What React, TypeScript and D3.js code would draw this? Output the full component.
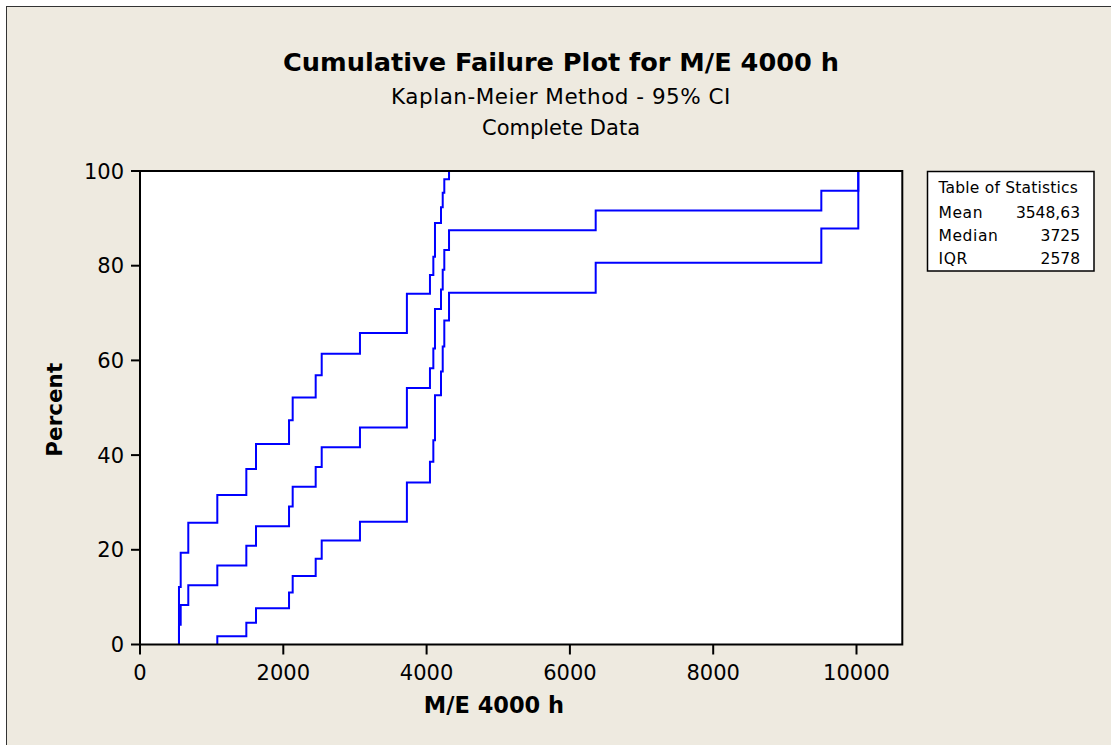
import React from "react";
import * as d3 from "d3";

// Failure times (unique) and Kaplan-Meier cumulative failure percent with 95% CI
const times = [544, 568, 674, 1079, 1484, 1619, 2080, 2131, 2452, 2536, 3070, 3725, 4047, 4094, 4117, 4201, 4225, 4247, 4313, 6360, 9509, 10025];
const kmPercent = [4.17, 8.33, 12.5, 16.67, 20.83, 25.0, 29.17, 33.33, 37.5, 41.67, 45.83, 54.17, 58.33, 62.5, 70.83, 75.0, 79.17, 83.33, 87.5, 91.67, 95.83, 100];
const upperPercent = [12.16, 19.39, 25.73, 31.58, 37.08, 42.32, 47.35, 52.19, 56.87, 61.39, 65.77, 74.1, 78.06, 81.87, 89.02, 92.32, 95.41, 98.24, 100, 100, 100, 100];
const lowerPercent = [0, 0, 0, 1.76, 4.59, 7.68, 10.98, 14.47, 18.13, 21.94, 25.9, 34.23, 38.61, 43.13, 52.65, 57.68, 62.92, 68.42, 74.27, 80.61, 87.84, 100];

const xTicks = [0, 2000, 4000, 6000, 8000, 10000];
const yTicks = [0, 20, 40, 60, 80, 100];

const statLabels = ["Mean", "Median", "IQR"];
const statValues = ["3548,63", "3725", "2578"];

const FONT = "'DejaVu Sans', Verdana, sans-serif";
const BG = "#EEEAE0";

export default function App() {
  const plotLeft = 140, plotRight = 902.3, plotTop = 171, plotBottom = 644.5;
  const x = d3.scaleLinear().domain([0, 10000]).range([plotLeft, 856.5]);
  const y = d3.scaleLinear().domain([0, 100]).range([plotBottom, plotTop]);

  const line = d3
    .line<{ t: number; p: number }>()
    .x((d) => x(d.t))
    .y((d) => y(d.p))
    .curve(d3.curveStepAfter);

  const buildSeries = (vals: number[]) => {
    const first = vals.findIndex((v) => v > 0);
    const pts = [{ t: times[first], p: 0 }];
    for (let i = first; i < times.length; i++) pts.push({ t: times[i], p: vals[i] });
    return pts;
  };

  const series = [kmPercent, upperPercent, lowerPercent].map(buildSeries);

  const boxL = 927.5, boxR = 1094, boxT = 171.5, boxB = 271;

  return (
    <svg
      width={1111}
      height={745}
      style={{ position: "fixed", left: 0, top: 0, display: "block" }}
      fontFamily={FONT}
    >
      <rect x={0} y={0} width={1111} height={745} fill="#ffffff" />
      <rect x={6} y={6} width={1105} height={739} fill={BG} />
      <line x1={6.5} y1={6} x2={6.5} y2={745} stroke="#333" strokeWidth={1} />
      <line x1={6} y1={6.5} x2={1111} y2={6.5} stroke="#333" strokeWidth={1} />

      {/* titles */}
      <text x={561} y={71} textAnchor="middle" fontSize={25.6} fontWeight="bold" fill="#000">
        Cumulative Failure Plot for M/E 4000 h
      </text>
      <text x={561} y={104} textAnchor="middle" fontSize={21.5} fill="#000" letterSpacing={0.5}>
        Kaplan-Meier Method - 95% CI
      </text>
      <text x={561} y={135} textAnchor="middle" fontSize={21} fill="#000">
        Complete Data
      </text>

      {/* plot area */}
      <rect x={plotLeft} y={plotTop} width={plotRight - plotLeft} height={plotBottom - plotTop} fill="#fff" />

      {series.map((s, i) => (
        <path key={i} d={line(s) || ""} fill="none" stroke="#0000FF" strokeWidth={2} />
      ))}

      <rect
        x={plotLeft}
        y={plotTop}
        width={plotRight - plotLeft}
        height={plotBottom - plotTop}
        fill="none"
        stroke="#000"
        strokeWidth={2}
      />

      {/* x axis ticks */}
      {xTicks.map((t) => (
        <g key={t}>
          <line x1={x(t)} x2={x(t)} y1={plotBottom} y2={plotBottom + 10} stroke="#000" strokeWidth={2} />
          <text x={x(t)} y={680} textAnchor="middle" fontSize={21} fill="#000">
            {t}
          </text>
        </g>
      ))}
      {/* y axis ticks */}
      {yTicks.map((t) => (
        <g key={t}>
          <line x1={plotLeft - 9} x2={plotLeft} y1={y(t)} y2={y(t)} stroke="#000" strokeWidth={2} />
          <text x={124} y={y(t) + 7.5} textAnchor="end" fontSize={21} fill="#000">
            {t}
          </text>
        </g>
      ))}

      {/* axis labels */}
      <text x={494} y={713} textAnchor="middle" fontSize={22.5} fontWeight="bold" fill="#000">
        M/E 4000 h
      </text>
      <text
        transform={`translate(62,${(plotTop + plotBottom) / 2 + 2}) rotate(-90)`}
        textAnchor="middle"
        fontSize={21.5}
        fontWeight="bold"
        fill="#000"
      >
        Percent
      </text>

      {/* statistics table */}
      <rect x={boxL} y={boxT} width={boxR - boxL} height={boxB - boxT} fill="#fff" stroke="#000" strokeWidth={1.5} />
      <text x={938.5} y={193} fontSize={15.5} fill="#000" letterSpacing={0.2}>
        Table of Statistics
      </text>
      {statLabels.map((lab, i) => (
        <g key={lab}>
          <text x={938.5} y={218 + i * 23} fontSize={15.5} fill="#000" letterSpacing={0.6}>
            {lab}
          </text>
          <text x={1080} y={218 + i * 23} textAnchor="end" fontSize={15.5} fill="#000">
            {statValues[i]}
          </text>
        </g>
      ))}
    </svg>
  );
}
